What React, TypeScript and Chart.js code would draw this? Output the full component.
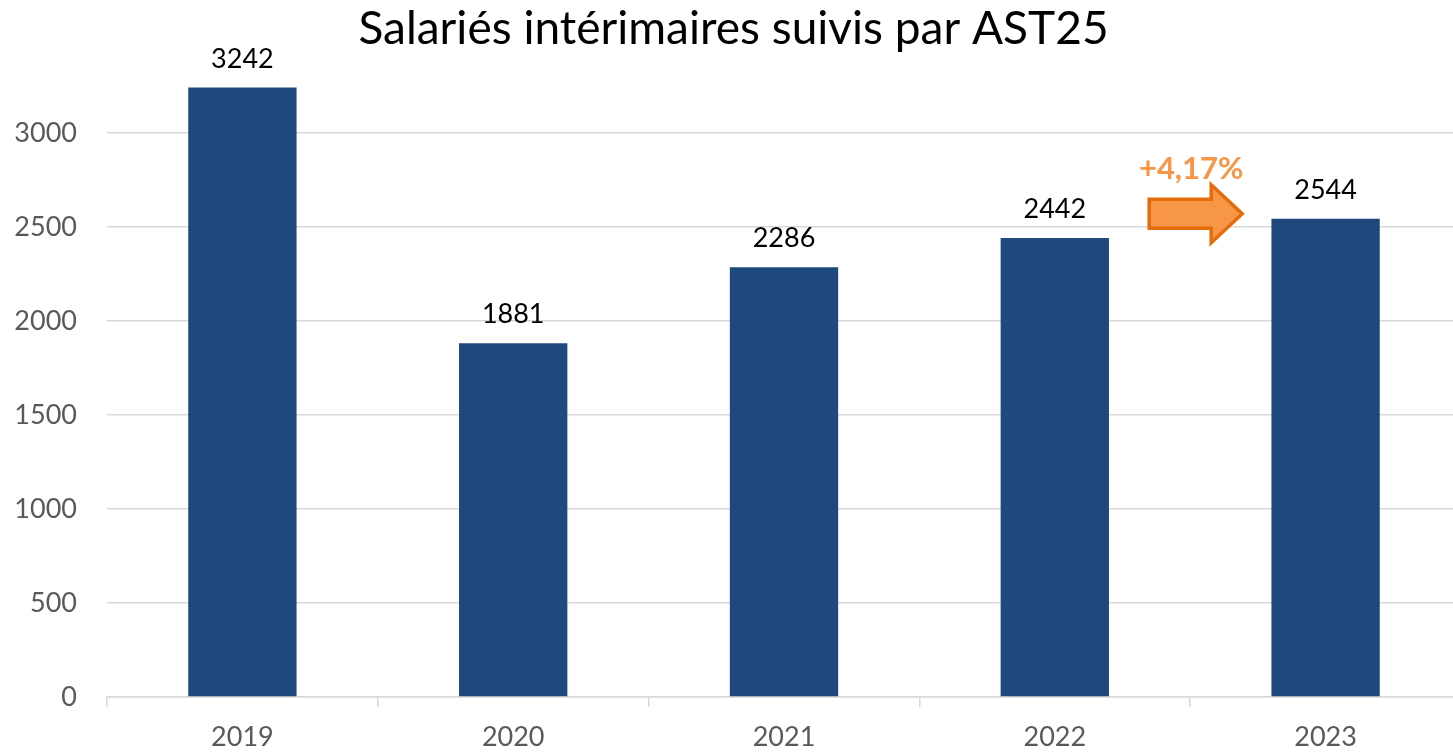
import React, { useEffect, useRef } from "react";
import { Chart, registerables } from "chart.js";

Chart.register(...registerables);

const TITLE = "Salariés intérimaires suivis par AST25";
const YEARS = ["2019", "2020", "2021", "2022", "2023"];
const SALARIES = [3242, 1881, 2286, 2442, 2544];
const Y_MIN = 0;
const Y_MAX = 3500;
const Y_STEP = 500;
const GROWTH_LABEL = "+4,17%";
const GROWTH_FROM = 3; // index of 2022
const GROWTH_TO = 4; // index of 2023

const FONT = "Lato, 'Open Sans', sans-serif";
const BAR_COLOR = "#1F497D";
const GRID_COLOR = "#D9D9D9";
const TICK_COLOR = "#595959";
const ARROW_FILL = "#F79646";
const ARROW_STROKE = "#E46C0A";

const titlePlugin = {
  id: "customTitle",
  afterDraw(chart: any) {
    const ctx = chart.ctx;
    ctx.save();
    ctx.font = `46px ${FONT}`;
    ctx.fillStyle = "#000000";
    ctx.textAlign = "center";
    ctx.textBaseline = "alphabetic";
    ctx.fillText(TITLE, chart.width / 2 + 3, 44);
    ctx.restore();
  },
};

const valueLabelPlugin = {
  id: "valueLabels",
  afterDatasetsDraw(chart: any) {
    const ctx = chart.ctx;
    const meta = chart.getDatasetMeta(0);
    ctx.save();
    ctx.font = `27px ${FONT}`;
    ctx.fillStyle = "#000000";
    ctx.textAlign = "center";
    ctx.textBaseline = "alphabetic";
    meta.data.forEach((bar: any, i: number) => {
      ctx.fillText(String(SALARIES[i]), bar.x, bar.y - 20);
    });
    ctx.restore();
  },
};

const growthArrowPlugin = {
  id: "growthArrow",
  afterDatasetsDraw(chart: any) {
    const ctx = chart.ctx;
    const meta = chart.getDatasetMeta(0);
    const a = meta.data[GROWTH_FROM];
    const b = meta.data[GROWTH_TO];
    const cx = (a.x + b.x) / 2;
    const tipY = b.y - 5;
    const left = cx - 41;
    const headStart = cx + 21;
    const tip = cx + 52;
    const bodyHalf = 14.5;
    const headHalf = 29;
    ctx.save();
    ctx.beginPath();
    ctx.moveTo(left, tipY - bodyHalf);
    ctx.lineTo(headStart, tipY - bodyHalf);
    ctx.lineTo(headStart, tipY - headHalf);
    ctx.lineTo(tip, tipY);
    ctx.lineTo(headStart, tipY + headHalf);
    ctx.lineTo(headStart, tipY + bodyHalf);
    ctx.lineTo(left, tipY + bodyHalf);
    ctx.closePath();
    ctx.fillStyle = ARROW_FILL;
    ctx.fill();
    ctx.lineWidth = 3.5;
    ctx.lineJoin = "miter";
    ctx.strokeStyle = ARROW_STROKE;
    ctx.stroke();

    ctx.font = `bold 31px ${FONT}`;
    ctx.fillStyle = ARROW_FILL;
    ctx.textAlign = "center";
    ctx.textBaseline = "alphabetic";
    ctx.fillText(GROWTH_LABEL, cx + 1, tipY - 35);
    ctx.restore();
  },
};

export default function App() {
  const canvasRef = useRef<HTMLCanvasElement | null>(null);

  useEffect(() => {
    document.body.style.margin = "0";
    const canvas = canvasRef.current;
    if (!canvas) return;
    const chart = new Chart(canvas, {
      type: "bar",
      data: {
        labels: YEARS,
        datasets: [
          {
            label: "Salariés intérimaires",
            data: SALARIES,
            backgroundColor: BAR_COLOR,
            borderWidth: 0,
            categoryPercentage: 1,
            barPercentage: 0.4,
          },
        ],
      },
      options: {
        responsive: false,
        animation: false,
        devicePixelRatio: 1,
        layout: { padding: { top: 39, left: 0, right: 0, bottom: 0 } },
        plugins: {
          legend: { display: false },
          title: { display: false },
          tooltip: { enabled: false },
        },
        scales: {
          x: {
            offset: true,
            grid: {
              offset: true,
              drawOnChartArea: false,
              drawTicks: true,
              tickLength: 10,
              color: GRID_COLOR,
              lineWidth: 1.5,
            },
            border: { display: true, color: GRID_COLOR, width: 1.5 },
            ticks: {
              color: TICK_COLOR,
              font: { family: FONT, size: 27 },
              padding: 14,
            },
            afterFit(scale: any) {
              scale.height = 56;
            },
          },
          y: {
            min: Y_MIN,
            max: Y_MAX,
            grid: {
              drawTicks: false,
              color: (c: any) => (c.tick && c.tick.value === Y_MAX ? "rgba(0,0,0,0)" : GRID_COLOR),
              lineWidth: 1.5,
            },
            border: { display: false },
            ticks: {
              stepSize: Y_STEP,
              color: TICK_COLOR,
              font: { family: FONT, size: 27 },
              padding: 30,
              callback: (v: any) => (v === Y_MAX ? "" : String(v)),
            },
            afterFit(scale: any) {
              scale.width = 107;
              scale.paddingTop = 0;
              scale.paddingBottom = 0;
            },
          },
        },
      },
      plugins: [valueLabelPlugin, growthArrowPlugin, titlePlugin],
    });
    return () => chart.destroy();
  }, []);

  return (
    <div style={{ width: 1453, height: 753, overflow: "hidden", background: "#ffffff" }}>
      <canvas ref={canvasRef} width={1461} height={753} style={{ display: "block" }} />
    </div>
  );
}
